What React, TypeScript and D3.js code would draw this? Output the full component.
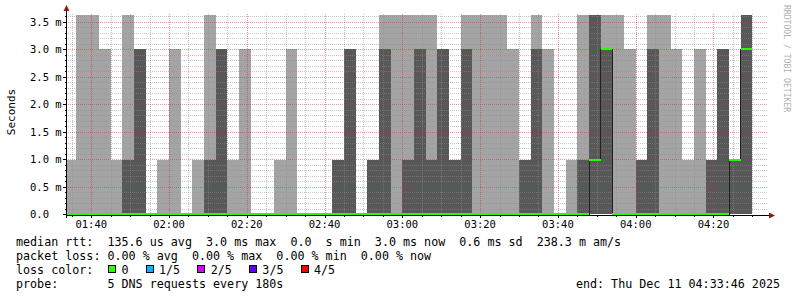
import React from "react";
import * as d3 from "d3";

// ---- data (ms) ----
const stepEnds = [
  "01:36", "01:39", "01:42", "01:45", "01:48", "01:51", "01:54", "01:57", "02:00", "02:03",
  "02:06", "02:09", "02:12", "02:15", "02:18", "02:21", "02:24", "02:27", "02:30", "02:33",
  "02:36", "02:39", "02:42", "02:45", "02:48", "02:51", "02:54", "02:57", "03:00", "03:03",
  "03:06", "03:09", "03:12", "03:15", "03:18", "03:21", "03:24", "03:27", "03:30", "03:33",
  "03:36", "03:39", "03:42", "03:45", "03:48", "03:51", "03:54", "03:57", "04:00", "04:03",
  "04:06", "04:09", "04:12", "04:15", "04:18", "04:21", "04:24", "04:27", "04:30",
];
// top of outer smoke band (max ping)
const maxPing = [
  0.98, 3.63, 3.63, 3.0, 0.98, 3.63, 3.0, 0, 0.98, 3.0,
  0, 0.98, 3.63, 3.0, 0.98, 3.0, 0, 0, 0.98, 3.0,
  0, 0, 0, 0.98, 3.0, 0, 0.98, 3.63, 3.63, 3.63,
  3.63, 3.63, 3.0, 0.98, 3.63, 3.63, 3.63, 3.63, 3.0, 0.98,
  3.63, 3.0, 0, 0.98, 3.63, 3.63, 3.63, 3.63, 3.0, 0.98,
  3.63, 3.63, 3.0, 0.98, 3.0, 0.98, 3.0, 0.98, 3.63,
];
// top of inner smoke band (4th ping)
const upperPing = [
  0, 0, 0, 0, 0, 0.98, 3.0, 0, 0, 0,
  0, 0, 0.98, 3.0, 0, 0, 0, 0, 0, 0,
  0, 0, 0, 0.98, 3.0, 0, 0.98, 3.0, 0, 0.98,
  3.0, 0.98, 3.0, 0.98, 3.0, 0, 0, 0, 0, 0.98,
  3.0, 0, 0, 0, 0.98, 3.63, 3.0, 0, 0, 0.98,
  3.0, 0, 0, 0, 0, 0.98, 3.0, 0.98, 3.63,
];
const medianPing = [
  0, 0, 0, 0, 0, 0, 0, 0, 0, 0,
  0, 0, 0, 0, 0, 0, 0, 0, 0, 0,
  0, 0, 0, 0, 0, 0, 0, 0, 0, 0,
  0, 0, 0, 0, 0, 0, 0, 0, 0, 0,
  0, 0, 0, 0, 0, 0.98, 3.0, 0, 0, 0,
  0, 0, 0, 0, 0, 0, 0, 0.98, 3.0,
];
const startTime = "01:33:46";
const endTime = "04:33:46";
const stepSeconds = 180;

const yMajorValues = [0, 0.5, 1.0, 1.5, 2.0, 2.5, 3.0, 3.5];
const yTickLabels = ["0.0", "0.5 m", "1.0 m", "1.5 m", "2.0 m", "2.5 m", "3.0 m", "3.5 m"];

const lossColors = ["#26ff00", "#00b8ff", "#dd00ff", "#5e00ff", "#ff0000"];
const lossLabels = ["0", "1/5", "2/5", "3/5", "4/5"];

const legendLines = [
  "median rtt:  135.6 us avg  3.0 ms max  0.0  s min  3.0 ms now  0.6 ms sd  238.3 m am/s",
  "packet loss: 0.00 % avg  0.00 % max  0.00 % min  0.00 % now",
  "loss color:",
  "probe:       5 DNS requests every 180s",
];
const endLabel = "end: Thu Dec 11 04:33:46 2025";

// ---- layout ----
const W = 797;
const H = 297;
const X0 = 67;
const X1 = 767;
const Y0 = 214;
const PX_PER_MS = 54.9;
const MONO = "'DejaVu Sans Mono', monospace";

function toDate(hms: string) {
  const [h, m, s] = hms.split(":").map(Number);
  return new Date(Date.UTC(2025, 11, 11, h, m, s || 0));
}

export default function App() {
  const t0 = toDate(startTime);
  const t1 = toDate(endTime);
  const x = d3.scaleUtc().domain([t0, t1]).range([X0, X1]);
  const y = d3.scaleLinear().domain([0, 3.5]).range([Y0, Y0 - 3.5 * PX_PER_MS]);
  const plotTop = Math.round(y(3.65));

  const steps = stepEnds.map((e, i) => {
    const end = toDate(e);
    const start = new Date(Math.max(+t0, +end - stepSeconds * 1000));
    return { x0: x(start), x1: x(end), max: maxPing[i], upper: upperPing[i], med: medianPing[i] };
  });

  const minorX = d3.utcMinute.every(5)!.range(t0, t1);
  const majorX = d3.utcMinute.every(20)!.range(t0, t1);
  const minorY = d3.range(1, 37).map((k) => k / 10).filter((v) => Math.round(v * 10) % 5 !== 0);
  const fmt = d3.utcFormat("%H:%M");

  const medPts: [number, number][] = [];
  steps.forEach((s) => {
    medPts.push([s.x0, y(s.med)]);
    medPts.push([s.x1, y(s.med)]);
  });
  const medPath = d3.line()(medPts) || "";

  const gridMinor = "rgba(140,140,140,0.5)";
  const gridMajor = "rgba(200,50,50,0.5)";

  // loss legend layout
  let lx = 108;
  const lossItems = lossLabels.map((lab, i) => {
    const item = { bx: lx, tx: lx + 13.5, lab, color: lossColors[i] };
    lx = lx + 13.5 + lab.length * 7.05 + 17;
    return item;
  });

  const ry = (v: number) => Math.round(y(v));
  const rx = (d: Date) => Math.round(x(d));

  return (
    <svg width={W} height={H} style={{ position: "absolute", left: 0, top: 0, background: "#fff" }}>
      <defs>
        <pattern id="hMinor" width={2} height={1} patternUnits="userSpaceOnUse">
          <rect x={0} y={0} width={1} height={1} fill={gridMinor} />
        </pattern>
        <pattern id="hMajor" width={2} height={1} patternUnits="userSpaceOnUse">
          <rect x={0} y={0} width={1} height={1} fill={gridMajor} />
        </pattern>
        <pattern id="vMinor" width={1} height={2} patternUnits="userSpaceOnUse">
          <rect x={0} y={0} width={1} height={1} fill={gridMinor} />
        </pattern>
        <pattern id="vMajor" width={1} height={2} patternUnits="userSpaceOnUse">
          <rect x={0} y={0} width={1} height={1} fill={gridMajor} />
        </pattern>
      </defs>
      <rect x={0} y={0} width={W} height={H} fill="#fff" />
      {/* smoke */}
      <g shapeRendering="crispEdges">
        {steps.map((s, i) =>
          s.max > 0 ? (
            <rect key={"o" + i} x={s.x0} y={y(s.max)} width={s.x1 - s.x0} height={Y0 - y(s.max)} fill="#a4a4a4" />
          ) : null
        )}
        {steps.map((s, i) =>
          s.upper > 0 ? (
            <rect key={"u" + i} x={s.x0} y={y(s.upper)} width={s.x1 - s.x0} height={Y0 - y(s.upper)} fill="#585858" />
          ) : null
        )}
      </g>
      {/* grid */}
      <g shapeRendering="crispEdges">
        {minorY.map((v) => (
          <rect key={"my" + v} x={X0} y={ry(v)} width={X1 - X0} height={1} fill="url(#hMinor)" />
        ))}
        {minorX
          .filter((d) => d.getUTCMinutes() % 20 !== 0)
          .map((d) => (
            <rect key={"mx" + +d} x={rx(d)} y={plotTop} width={1} height={Y0 - plotTop} fill="url(#vMinor)" />
          ))}
        {yMajorValues.slice(1).map((v) => (
          <rect key={"My" + v} x={X0} y={ry(v)} width={X1 - X0} height={1} fill="url(#hMajor)" />
        ))}
        {majorX.map((d) => (
          <rect key={"Mx" + +d} x={rx(d)} y={plotTop} width={1} height={Y0 - plotTop} fill="url(#vMajor)" />
        ))}
      </g>
      {/* median line */}
      <path d={medPath} fill="none" stroke="#202020" strokeWidth={1} shapeRendering="crispEdges" />
      <g shapeRendering="crispEdges">
        {steps.map((s, i) => (
          <rect key={"m" + i} x={s.x0} y={y(s.med) - 1} width={s.x1 - s.x0} height={2} fill={lossColors[0]} />
        ))}
      </g>
      {/* axes */}
      <g shapeRendering="crispEdges" stroke="#000" strokeWidth={1}>
        <line x1={X0 - 0.5} x2={X1 + 2} y1={Y0 + 1.5} y2={Y0 + 1.5} />
        <line x1={X0 - 0.5} x2={X0 - 0.5} y1={Y0 + 4} y2={plotTop - 4} />
        {minorX.map((d) => (
          <line key={"tx" + +d} x1={rx(d) + 0.5} x2={rx(d) + 0.5} y1={Y0 + 1} y2={Y0 + (d.getUTCMinutes() % 20 === 0 ? 4 : 3)} />
        ))}
        {yMajorValues.map((v) => (
          <line key={"ty" + v} x1={X0 - 4} x2={X0} y1={ry(v) + 0.5} y2={ry(v) + 0.5} />
        ))}
        {minorY.map((v) => (
          <line key={"tmy" + v} x1={X0 - 2} x2={X0} y1={ry(v) + 0.5} y2={ry(v) + 0.5} />
        ))}
      </g>
      <path d={`M${X0 - 3.5},${plotTop - 3} L${X0 + 2.5},${plotTop - 3} L${X0 - 0.5},${plotTop - 9} Z`} fill="#8b1a1a" />
      <path d={`M${X1 + 2},${Y0 - 1.5} L${X1 + 2},${Y0 + 4.5} L${X1 + 8},${Y0 + 1.5} Z`} fill="#8b1a1a" />
      {/* axis labels */}
      <g fontFamily={MONO} fontSize={10.5} fill="#000">
        {yMajorValues.map((v, i) => (
          <text key={"yl" + v} x={30} y={y(v) + 4}>{yTickLabels[i]}</text>
        ))}
        {majorX.map((d) => (
          <text key={"xl" + +d} x={x(d)} y={Y0 + 14} textAnchor="middle">{fmt(d)}</text>
        ))}
      </g>
      <text
        fontFamily={MONO}
        fontSize={11}
        transform={`translate(15,${(plotTop + Y0) / 2 - 2}) rotate(-90)`}
        textAnchor="middle"
        fill="#000"
      >
        Seconds
      </text>
      <text
        fontFamily={MONO}
        fontSize={8.1}
        transform={`translate(784,5) rotate(90)`}
        fill="#b0b0b0"
      >
        RRDTOOL / TOBI OETIKER
      </text>
      {/* legend */}
      <g fontFamily={MONO} fontSize={11.7} fill="#000" style={{ whiteSpace: "pre" }}>
        {legendLines.map((l, i) => (
          <text key={"lg" + i} x={16} y={245.5 + i * 14} xmlSpace="preserve">{l}</text>
        ))}
        <text x={780} y={287.5} textAnchor="end">{endLabel}</text>
        {lossItems.map((it) => (
          <g key={it.lab}>
            <rect x={it.bx + 0.5} y={265.5} width={7} height={7} fill={it.color} stroke="#000" strokeWidth={1} shapeRendering="crispEdges" />
            <text x={it.tx} y={273.5}>{it.lab}</text>
          </g>
        ))}
      </g>
    </svg>
  );
}
